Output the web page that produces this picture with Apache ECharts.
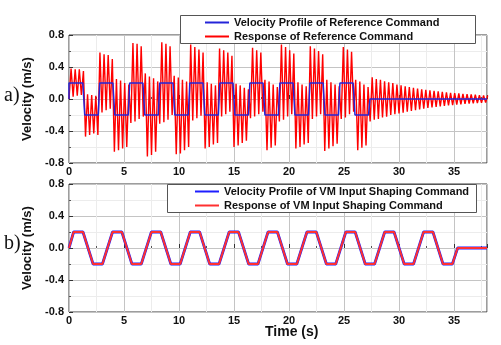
<!DOCTYPE html>
<html>
<head>
<meta charset="utf-8">
<script src="https://cdn.jsdelivr.net/npm/echarts@6/dist/echarts.min.js"></script>
<style>
  html, body { margin: 0; padding: 0; background: #ffffff; }
  #chart { width: 501px; height: 345px; }
</style>
</head>
<body>
<div id="chart"></div>
<script>
// Panel a): square velocity command, breakpoints (time in s, level in m/s)
const refCmdTimes = [
  0, 0, 1.26, 1.43, 2.66,
  2.79, 3.99, 4.16, 5.39,
  5.52, 6.72, 6.89, 8.12,
  8.25, 9.45, 9.62, 10.85,
  10.98, 12.18, 12.35, 13.58,
  13.71, 14.91, 15.08, 16.31,
  16.44, 17.64, 17.81, 19.04,
  19.17, 20.37, 20.54, 21.77,
  21.90, 23.10, 23.27, 24.50,
  24.63, 25.83, 26.00, 27.23,
  27.36, 38
];
const refCmdLevels = [
  0, 0.2, 0.2, -0.2, -0.2,
  0.2, 0.2, -0.2, -0.2,
  0.2, 0.2, -0.2, -0.2,
  0.2, 0.2, -0.2, -0.2,
  0.2, 0.2, -0.2, -0.2,
  0.2, 0.2, -0.2, -0.2,
  0.2, 0.2, -0.2, -0.2,
  0.2, 0.2, -0.2, -0.2,
  0.2, 0.2, -0.2, -0.2,
  0.2, 0.2, -0.2, -0.2,
  0, 0
];

// Panel a): measured response, one extreme value every half oscillation
const respStep = 0.1875;
const refResponse = [
  0, 0.38, 0.03, 0.37, 0.04, 0.37, 0.05, 0.35,
  -0.47, 0.06, -0.45, 0.05, -0.43, 0.04, -0.45,
  0.58, -0.17, 0.56, -0.14, 0.55, -0.12, 0.50,
  -0.66, 0.25, -0.64, 0.23, -0.62, 0.20, -0.60, 0.18,
  -0.30, 0.70, -0.28, 0.69, -0.25, 0.66, -0.22,
  0.32, -0.72, 0.28, -0.70, 0.26, -0.66, 0.22,
  -0.31, 0.71, -0.29, 0.69, -0.26, 0.66, -0.20,
  0.29, -0.69, 0.27, -0.68, 0.24, -0.64, 0.22, -0.60,
  0.68, -0.27, 0.65, -0.24, 0.62, -0.21, 0.58,
  -0.62, 0.21, -0.60, 0.19, -0.57, 0.17, -0.55,
  0.63, -0.22, 0.61, -0.19, 0.58, -0.16, 0.54,
  -0.60, 0.19, -0.58, 0.17, -0.55, 0.14, -0.52, 0.12,
  -0.24, 0.64, -0.22, 0.61, -0.19, 0.58, -0.16,
  0.24, -0.64, 0.22, -0.61, 0.18, -0.58, 0.15,
  -0.28, 0.68, -0.26, 0.65, -0.22, 0.61, -0.19, 0.57,
  -0.62, 0.21, -0.60, 0.18, -0.57, 0.16, -0.55,
  0.66, -0.25, 0.63, -0.22, 0.60, -0.19, 0.56,
  -0.65, 0.24, -0.62, 0.21, -0.59, 0.18, -0.56, 0.16,
  -0.25, 0.65, -0.23, 0.62, -0.19, 0.59, -0.16,
  0.24, -0.64, 0.22, -0.61, 0.18, -0.58, 0.15,
  -0.28, 0.27, -0.26, 0.25, -0.25, 0.24, -0.23, 0.22, -0.22, 0.21,
  -0.20, 0.20, -0.19, 0.18, -0.18, 0.17, -0.17, 0.16, -0.16, 0.15,
  -0.15, 0.14, -0.14, 0.13, -0.13, 0.12, -0.12, 0.116, -0.112, 0.109,
  -0.105, 0.102, -0.099, 0.095, -0.092, 0.089, -0.086, 0.084, -0.081, 0.078,
  -0.076, 0.073, -0.071, 0.069, -0.066, 0.064, -0.062, 0.060, -0.058, 0.056,
  -0.055, 0.053, -0.051, 0.049, -0.048, 0.046, -0.045, 0.044
];

// Panel b): VM input shaping command, breakpoints (time in s, level in m/s)
const vmTimes = [
  0,
  0.42, 1.27, 2.19, 3.04,
  3.955, 4.805, 5.72, 6.57,
  7.49, 8.34, 9.26, 10.11,
  11.025, 11.875, 12.79, 13.64,
  14.56, 15.41, 16.33, 17.18,
  18.095, 18.945, 19.86, 20.71,
  21.63, 22.48, 23.40, 24.25,
  25.165, 26.015, 26.93, 27.78,
  28.70, 29.55, 30.47, 31.32,
  32.235, 33.085, 34.00, 34.85,
  35.33, 38
];
const vmLevels = [
  0,
  0.2, 0.2, -0.2, -0.2,
  0.2, 0.2, -0.2, -0.2,
  0.2, 0.2, -0.2, -0.2,
  0.2, 0.2, -0.2, -0.2,
  0.2, 0.2, -0.2, -0.2,
  0.2, 0.2, -0.2, -0.2,
  0.2, 0.2, -0.2, -0.2,
  0.2, 0.2, -0.2, -0.2,
  0.2, 0.2, -0.2, -0.2,
  0.2, 0.2, -0.2, -0.2,
  0, 0
];

const seriesNames = {
  refCmd: 'Velocity Profile of Reference Command',
  refResp: 'Response of Reference Command',
  vmCmd: 'Velocity Profile of VM Input Shaping Command',
  vmResp: 'Response of VM Input Shaping Command'
};

const FONT = 'Arial, "Liberation Sans", Helvetica, sans-serif';
const pairs = (xs, ys) => xs.map((x, i) => [x, ys[i]]);

function makeX(gridIndex) {
  return {
    type: 'value', gridIndex, min: 0, max: 38, interval: 5,
    axisLine: { show: false },
    axisTick: { show: true, inside: true, length: 4, lineStyle: { color: '#333' } },
    minorTick: { show: true, splitNumber: 2, length: 2, lineStyle: { color: '#555' } },
    axisLabel: { margin: 3, fontFamily: FONT, fontWeight: 'bold', fontSize: 11, color: '#111', showMaxLabel: false },
    splitLine: { show: true, lineStyle: { color: '#c4c4c4', width: 1 } },
    minorSplitLine: { show: true, lineStyle: { color: '#ececec', width: 1 } }
  };
}
function makeY(gridIndex) {
  return {
    type: 'value', gridIndex, min: -0.8, max: 0.8, interval: 0.4,
    name: 'Velocity (m/s)', nameLocation: 'middle', nameGap: 25,
    nameTextStyle: { fontFamily: FONT, fontWeight: 'bold', fontSize: 13, color: '#111' },
    axisLine: { show: false },
    axisTick: { show: true, inside: true, length: 4, lineStyle: { color: '#333' } },
    minorTick: { show: true, splitNumber: 2, length: 2, lineStyle: { color: '#555' } },
    axisLabel: { margin: 5, fontFamily: FONT, fontWeight: 'bold', fontSize: 11, color: '#111',
      formatter: v => v.toFixed(1) },
    splitLine: { show: true, lineStyle: { color: '#c4c4c4', width: 1 } },
    minorSplitLine: { show: true, lineStyle: { color: '#ececec', width: 1 } }
  };
}

const chart = echarts.init(document.getElementById('chart'), null, { renderer: 'canvas' });

const legendCommon = {
  orient: 'vertical', padding: 0, itemWidth: 24, itemHeight: 10, itemGap: 3,
  itemStyle: { opacity: 0 },
  textStyle: { fontFamily: FONT, fontWeight: 'bold', fontSize: 11, color: '#111' },
  z: 6
};

chart.setOption({
  animation: false,
  backgroundColor: '#ffffff',
  grid: [
    { left: 69, top: 35, width: 418, height: 128, show: true, borderColor: '#3a3a3a', borderWidth: 1, backgroundColor: 'transparent' },
    { left: 69, top: 184, width: 418, height: 128, show: true, borderColor: '#3a3a3a', borderWidth: 1, backgroundColor: 'transparent' }
  ],
  xAxis: [makeX(0), makeX(1)],
  yAxis: [makeY(0), makeY(1)],
  legend: [
    Object.assign({}, legendCommon, { left: 204, top: 17, data: [seriesNames.refCmd, seriesNames.refResp] }),
    Object.assign({}, legendCommon, { left: 194, top: 186, data: [seriesNames.vmCmd, seriesNames.vmResp] })
  ],
  graphic: [
    { type: 'rect', z: 5, shape: { x: 180.5, y: 15.5, width: 295, height: 28 },
      style: { fill: '#ffffff', stroke: '#555555', lineWidth: 1 } },
    { type: 'rect', z: 5, shape: { x: 167.5, y: 184.5, width: 309, height: 28 },
      style: { fill: '#ffffff', stroke: '#555555', lineWidth: 1 } },
    { type: 'text', z: 6, left: 4, top: 86,
      style: { text: 'a)', font: '20px "Liberation Serif", "Times New Roman", serif', fill: '#111' } },
    { type: 'text', z: 6, left: 4, top: 234,
      style: { text: 'b)', font: '20px "Liberation Serif", "Times New Roman", serif', fill: '#111' } },
    { type: 'text', z: 6, left: 265, top: 325,
      style: { text: 'Time (s)', font: 'bold 14px ' + FONT, fill: '#111' } }
  ],
  series: [
    {
      name: seriesNames.refResp, type: 'line', xAxisIndex: 0, yAxisIndex: 0, z: 2,
      data: refResponse.map((v, i) => [i * respStep, v]),
      symbol: 'none', showSymbol: false, color: '#ff0000',
      lineStyle: { color: '#ff0000', width: 1.4 }
    },
    {
      name: seriesNames.refCmd, type: 'line', xAxisIndex: 0, yAxisIndex: 0, z: 3,
      data: pairs(refCmdTimes, refCmdLevels),
      symbol: 'none', showSymbol: false, color: '#2424d8',
      lineStyle: { color: '#2424d8', width: 1.5 }
    },
    {
      name: seriesNames.vmCmd, type: 'line', xAxisIndex: 1, yAxisIndex: 1, z: 2,
      data: pairs(vmTimes, vmLevels),
      symbol: 'none', showSymbol: false, color: '#1e1eff',
      lineStyle: { color: '#1e1eff', width: 2.8 }
    },
    {
      name: seriesNames.vmResp, type: 'line', xAxisIndex: 1, yAxisIndex: 1, z: 3,
      data: pairs(vmTimes, vmLevels),
      symbol: 'none', showSymbol: false, color: '#ff3030',
      lineStyle: { color: '#ff3030', width: 2 }
    }
  ]
});
</script>
</body>
</html>
